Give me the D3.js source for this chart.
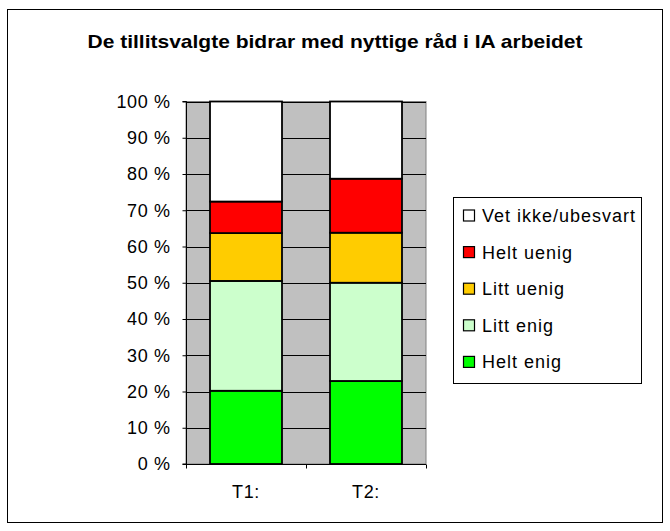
<!DOCTYPE html>
<html><head><meta charset="utf-8">
<script src="https://cdn.jsdelivr.net/npm/d3@7"></script>
<style>body{margin:0;background:#fff}svg{display:block;font-family:Arial,"Liberation Sans",sans-serif}</style>
</head><body>
<svg id="c" width="670" height="531"></svg>
<script>
const title = "De tillitsvalgte bidrar med nyttige råd i IA arbeidet";
const categories = ["T1:", "T2:"];
const seriesNames = ["Helt enig", "Litt enig", "Litt uenig", "Helt uenig", "Vet ikke/ubesvart"];
const seriesColors = ["#00FF00", "#CCFFCC", "#FFCC00", "#FF0000", "#FFFFFF"];
const heltEnig = [20.2, 22.9];
const littEnig = [30.3, 27.1];
const littUenig = [13.2, 13.8];
const heltUenig = [8.7, 14.9];
const vetIkke = [27.6, 21.3];
const yTicks = [0, 10, 20, 30, 40, 50, 60, 70, 80, 90, 100];

const seriesValues = [heltEnig, littEnig, littUenig, heltUenig, vetIkke];
const rows = categories.map((c, i) => {
  const r = {cat: c};
  seriesNames.forEach((s, j) => r[s] = seriesValues[j][i]);
  return r;
});
rows.forEach(r => { const t = d3.sum(seriesNames, s => r[s]); seriesNames.forEach(s => r[s] = r[s] / t * 100); });
const stacked = d3.stack().keys(seriesNames)(rows);

const svg = d3.select("#c");
svg.append("rect").attr("x", 7.5).attr("y", 9.5).attr("width", 655).attr("height", 513)
  .attr("fill", "#fff").attr("stroke", "#000").attr("stroke-width", 1);

const L = 186, R = 426, T = 101.5, B = 464;
const x = d3.scaleBand().domain(categories).range([L, R]).paddingInner(0.4).paddingOuter(0.2);
const y = d3.scaleLinear().domain([0, 100]).range([B, T]);

svg.append("text").attr("x", 335).attr("y", 48).attr("text-anchor", "middle")
  .attr("font-weight", "bold").attr("font-size", 18.5).attr("textLength", 495)
  .attr("lengthAdjust", "spacingAndGlyphs").text(title);

svg.append("rect").attr("x", L).attr("y", T).attr("width", R - L).attr("height", B - T)
  .attr("fill", "#C0C0C0").attr("stroke", "#808080");

svg.append("g").selectAll("line").data(yTicks.filter(d => d > 0)).join("line")
  .attr("x1", L).attr("x2", R).attr("y1", d => Math.round(y(d)) + 0.5).attr("y2", d => Math.round(y(d)) + 0.5)
  .attr("stroke", "#000").attr("stroke-width", 1);

const ya = svg.append("g").attr("transform", `translate(${L + 0.5},0)`)
  .call(d3.axisLeft(y).tickValues(yTicks).tickSize(4).tickPadding(12).tickFormat(d => d + " %"));
ya.select(".domain").attr("stroke", "#000").attr("d", `M-4,${T}H0V${B}H-4`);
ya.selectAll(".tick text").attr("font-size", 18).attr("letter-spacing", 0.6).attr("fill", "#000")
  .attr("font-family", "Arial,Liberation Sans,sans-serif");
ya.selectAll(".tick line").attr("stroke", "#000");

const xa = svg.append("g").attr("transform", `translate(0,${B + 0.5})`);
xa.append("line").attr("x1", L).attr("x2", R).attr("stroke", "#000");
xa.selectAll(".tk").data([L, (L + R) / 2, R]).join("line").attr("class", "tk")
  .attr("x1", d => Math.round(d) + 0.5).attr("x2", d => Math.round(d) + 0.5).attr("y1", 0).attr("y2", 4).attr("stroke", "#000");
xa.selectAll("text").data(categories).join("text")
  .attr("x", d => x(d) + x.bandwidth() / 2).attr("y", 33).attr("text-anchor", "middle")
  .attr("font-size", 18).attr("letter-spacing", 0.6).text(d => d);

svg.append("g").selectAll("g").data(stacked).join("g")
  .attr("fill", (d, i) => seriesColors[i])
  .selectAll("rect").data(d => d).join("rect")
  .attr("x", d => x(d.data.cat)).attr("width", x.bandwidth())
  .attr("y", d => y(d[1])).attr("height", d => y(d[0]) - y(d[1]))
  .attr("stroke", "#000").attr("stroke-width", 1.8);

const lg = svg.append("g");
lg.append("rect").attr("x", 453.5).attr("y", 197.5).attr("width", 188).attr("height", 186)
  .attr("fill", "#fff").attr("stroke", "#000");
const legendItems = seriesNames.map((s, i) => ({s, c: seriesColors[i]})).reverse();
const li = lg.selectAll("g.it").data(legendItems).join("g").attr("class", "it")
  .attr("transform", (d, i) => `translate(0,${215.5 + i * 36.6})`);
li.append("rect").attr("x", 463.5).attr("y", -5.5).attr("width", 11).attr("height", 11)
  .attr("fill", d => d.c).attr("stroke", "#000").attr("stroke-width", 1.2);
li.append("text").attr("x", 482).attr("y", 6.5).attr("font-size", 18).attr("letter-spacing", 1).text(d => d.s);
</script>
</body></html>
